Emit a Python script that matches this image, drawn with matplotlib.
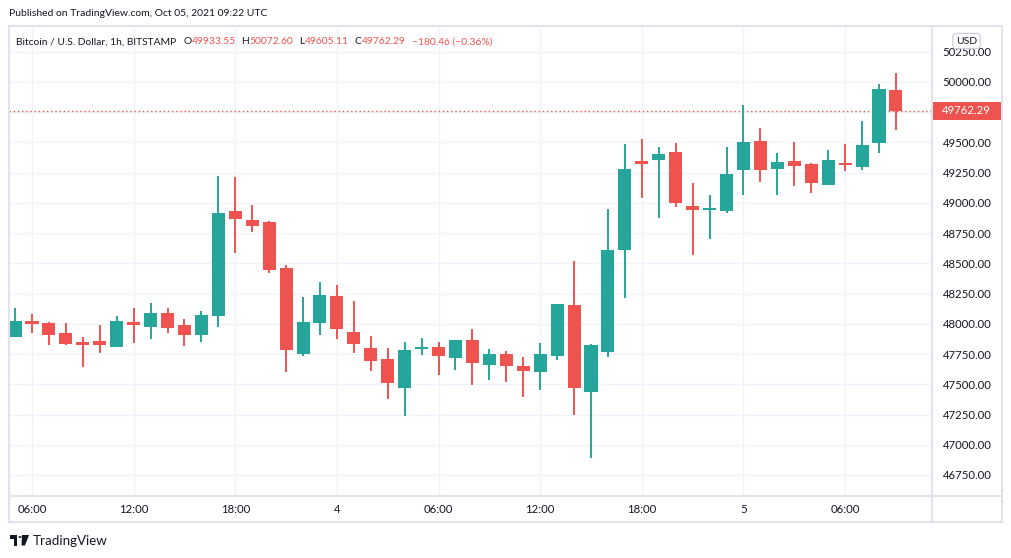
import numpy as np
import matplotlib
matplotlib.use('Agg')
import matplotlib.pyplot as plt
from matplotlib.patches import Rectangle, Polygon, Circle
from matplotlib.lines import Line2D
import matplotlib.transforms as mtransforms

plt.rcParams['font.family'] = ['Lato', 'DejaVu Sans']

# hourly candles, Oct 3 05:00 -> Oct 5 09:00 (hours counted from Oct 3 00:00)
hours = list(range(5, 58))
opens = [47894, 48023, 48007, 47924, 47850, 47858, 47811, 48015, 47976, 48090,
         47990, 47910, 48067, 48933, 48859, 48842, 48462, 47753, 48010, 48230,
         47933, 47800, 47709, 47472, 47795, 47808, 47720, 47866, 47662, 47751,
         47651, 47604, 47737, 48156, 47439, 47770, 48613, 49347, 49357, 49421,
         48977, 48944, 48936, 49275, 49512, 49283, 49347, 49322, 49151, 49330,
         49300, 49498, 49933.55]
highs = [48131, 48081, 48015, 48007, 47891, 47990, 48065, 48131, 48172, 48131,
         48040, 48106, 49223, 49215, 48983, 48850, 48487, 48222, 48346, 48321,
         48189, 47900, 47800, 47850, 47883, 47850, 47866, 47957, 47792, 47775,
         47726, 47842, 48164, 48520, 47833, 48950, 49487, 49529, 49462, 49496,
         49165, 49068, 49462, 49810, 49620, 49413, 49504, 49330, 49438, 49487,
         49677, 49983, 50072.60]
lows = [47890, 47927, 47827, 47827, 47646, 47761, 47805, 47844, 47877, 47927,
        47819, 47852, 47976, 48588, 48762, 48423, 47604, 47737, 47910, 47877,
        47761, 47612, 47381, 47240, 47745, 47579, 47621, 47497, 47538, 47522,
        47398, 47455, 47704, 47249, 46893, 47728, 48216, 49043, 48878, 48969,
        48572, 48704, 48919, 49068, 49175, 49068, 49142, 49085, 49150, 49266,
        49275, 49415, 49605.11]
closes = [48023, 48001, 47910, 47836, 47827, 47827, 48023, 47993, 48090, 47968,
          47910, 48073, 48917, 48869, 48812, 48448, 47786, 48015, 48239, 47960,
          47836, 47695, 47513, 47784, 47808, 47737, 47866, 47679, 47751, 47654,
          47612, 47751, 48164, 47472, 47825, 48611, 49281, 49324, 49405, 49002,
          48944, 48952, 49239, 49504, 49275, 49338, 49308, 49167, 49355, 49316,
          49479, 49942, 49762.29]

time_ticks = [6, 12, 18, 24, 30, 36, 42, 48, 54]
time_labels = ['06:00', '12:00', '18:00', '4', '06:00', '12:00', '18:00', '5', '06:00']
grid_prices = [46750, 47000, 47250, 47500, 47750, 48000, 48250, 48500,
               48750, 49000, 49250, 49500, 49750, 50000, 50250]
price_ticks = [p for p in grid_prices if p != 49750]  # hidden behind last-price tag

UP = '#26a69a'
DOWN = '#ef5350'
TXT = '#131722'
GRID = '#f0f3fa'
BORDER = '#e0e3eb'

W, H = 1012, 558
fig = plt.figure(figsize=(W / 100, H / 100), dpi=100)
fig.patch.set_facecolor('white')


def fx(px):
    return px / W


def fy(py):
    return 1 - py / H


# plot area in pixels: x 9..932, y 26..495.7
ax = fig.add_axes([fx(9), fy(495.7), fx(932) - fx(9), fy(26) - fy(495.7)])
ax.set_xlim(4.642, 59.13)
ax.set_ylim(46578.8, 50463.1)

for h, o, hi, lo, c in zip(hours, opens, highs, lows, closes):
    col = UP if c >= o else DOWN
    ax.vlines(h, lo, hi, color=col, linewidth=1.4, zorder=3)
    body = max(abs(c - o), 12)
    ax.bar(h, body, bottom=min(o, c), width=0.77, color=col, zorder=4)

# grid
for t in time_ticks:
    ax.axvline(t, color=GRID, linewidth=1, zorder=1)
for p in grid_prices:
    ax.axhline(p, color=GRID, linewidth=1, zorder=1)

# last price dotted line + tag
last = closes[-1]
ax.axhline(last, color=DOWN, linewidth=1, linestyle=(0, (1, 2)), zorder=2)
blend = mtransforms.blended_transform_factory(ax.transAxes, ax.transData)
ax.add_patch(Rectangle((1.0, last - 74.5), 69 / 923, 149, transform=blend,
                       facecolor=DOWN, edgecolor='none', clip_on=False, zorder=6))
ax.text(1.0 + 10 / 923, last, f'{last:.2f}', transform=blend, color='white',
        fontsize=8.2, va='center', ha='left', zorder=7, clip_on=False)

ax.set_xticks(time_ticks)
ax.set_xticklabels(time_labels)
ax.yaxis.tick_right()
ax.set_yticks(price_ticks)
ax.set_yticklabels([f'{p:.2f}' for p in price_ticks])
ax.tick_params(axis='x', length=0, pad=6, labelsize=8.2, labelcolor=TXT)
ax.tick_params(axis='y', length=0, pad=7.5, labelsize=8.2, labelcolor=TXT)
for s in ax.spines.values():
    s.set_visible(False)

# frame and separators
fig.add_artist(Rectangle((fx(9), fy(522)), fx(1002) - fx(9), fy(26) - fy(522),
                         transform=fig.transFigure, fill=False, edgecolor=BORDER,
                         linewidth=1.5))
fig.add_artist(Line2D([fx(932), fx(932)], [fy(26), fy(522)], color=BORDER, linewidth=1.5))
fig.add_artist(Line2D([fx(9), fx(1002)], [fy(495.7), fy(495.7)], color=BORDER, linewidth=1.5))

# USD badge
fig.text(fx(966.5), fy(41), 'USD', fontsize=7.5, color=TXT, ha='center', va='center',
         bbox=dict(boxstyle='round,pad=0.3', facecolor='white', edgecolor='#c8ccd6', linewidth=0.8))

# header
fig.text(fx(9), fy(14), 'Published on TradingView.com, Oct 05, 2021 09:22 UTC',
         fontsize=7.5, color=TXT, ha='left', va='center')

# legend row, laid out piece by piece
legend_parts = [
    ('Bitcoin / U.S. Dollar, 1h, BITSTAMP', TXT, 7),
    ('O', TXT, 0.5), ('49933.55', DOWN, 5),
    ('H', TXT, 0.5), ('50072.60', DOWN, 6),
    ('L', TXT, 0.5), ('49605.11', DOWN, 6),
    ('C', TXT, 0.5), ('49762.29', DOWN, 6),
    ('\u2212180.46 (\u22120.36%)', DOWN, 0),
]
renderer = fig.canvas.get_renderer()
x = 16
for s, c, gap in legend_parts:
    t = fig.text(fx(x), fy(42), s, fontsize=7.4, color=c, ha='left', va='center')
    bb = t.get_window_extent(renderer)
    x = bb.x1 + gap

# footer logo
logo = [
    Rectangle((fx(10), fy(539)), fx(17) - fx(10), fy(535) - fy(539)),
    Rectangle((fx(14), fy(545.5)), fx(17) - fx(14), fy(535) - fy(545.5)),
    Circle((fx(20), fy(537)), 1.6 / W),
    Polygon([(fx(22), fy(535)), (fx(29), fy(535)), (fx(25), fy(545.5)), (fx(21.5), fy(545.5))]),
]
for p in logo:
    p.set_transform(fig.transFigure)
    p.set_facecolor(TXT)
    p.set_edgecolor('none')
    fig.add_artist(p)
fig.text(fx(33), fy(541), 'TradingView', fontsize=9.6, color=TXT, ha='left', va='center')

fig.savefig('out.png', dpi=100, facecolor='white')
